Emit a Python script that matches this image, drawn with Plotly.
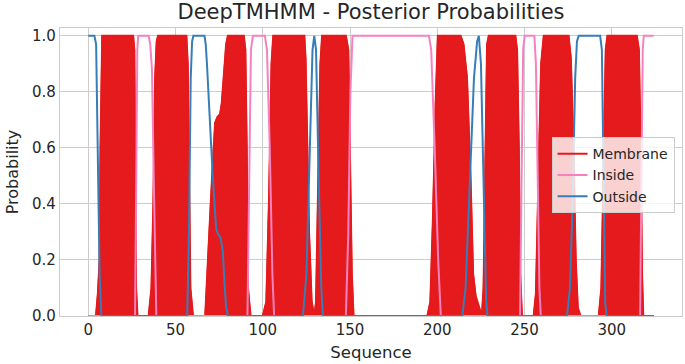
import plotly.graph_objects as go

# Residue positions / posterior probabilities (breakpoints)
membrane_x = [0, 4.4, 5.5, 6.5, 7, 7.5, 8, 25.7, 26.4, 26.9, 27.4, 28.2,
              34.6, 36.2, 37.3, 38.3, 39.2, 40, 56.2, 57, 57.7, 58.5, 60,
              67, 67.8, 68.6, 70, 71.4, 72.7, 74, 75.5, 76.5, 78.1, 79, 80,
              89.1, 90, 90.8, 91.5, 93, 100, 102, 103.5, 105, 106, 123.8,
              124.5, 125.5, 126.5, 128, 129.5, 130.5, 132, 133, 134, 147.6,
              149, 150, 151, 152, 194.3, 196, 197.5, 199, 200.3, 213.3, 215,
              217, 219, 220.5, 222, 224, 225.5, 226.5, 227.5, 228.5, 229.5,
              244.7, 245.7, 246.7, 247.5, 248.5, 255.2, 256.5, 258, 259.5,
              261, 275.2, 276.5, 278, 279.3, 280.5, 282, 292.5, 294, 295.5,
              296.5, 297.5, 314.3, 315.5, 316.5, 317.3, 318, 324]
membrane_y = [0, 0, 0.08, 0.2, 0.6, 0.95, 1, 1, 0.95, 0.5, 0.1, 0,
              0, 0.1, 0.4, 0.85, 0.98, 1, 1, 0.9, 0.5, 0.1, 0,
              0, 0.1, 0.22, 0.38, 0.55, 0.69, 0.71, 0.72, 0.76, 0.9, 0.97, 1,
              1, 0.95, 0.6, 0.1, 0, 0, 0.05, 0.4, 0.9, 1, 1,
              0.92, 0.6, 0.3, 0.05, 0, 0.05, 0.5, 0.9, 1, 1,
              0.95, 0.6, 0.15, 0, 0, 0.05, 0.35, 0.75, 1, 1, 0.97,
              0.85, 0.5, 0.15, 0.07, 0.03, 0, 0.1, 0.6, 0.97, 1,
              1, 0.95, 0.6, 0.15, 0, 0, 0.08, 0.5, 0.9,
              1, 1, 0.92, 0.6, 0.2, 0.03, 0, 0, 0.1, 0.6,
              0.95, 1, 1, 0.95, 0.6, 0.15, 0, 0]

inside_x = [0, 26.8, 27.5, 28.1, 28.6, 34.6, 35.5, 36.5, 37.5, 38.3, 39,
            91.2, 92.2, 93.2, 94.3, 101.2, 102.4, 104, 105.5, 106.5,
            147.6, 149, 150.2, 151.4, 195.2, 196.5, 198.5, 200.5, 202,
            247.4, 248.3, 249.2, 250, 255.6, 256.5, 257.5, 258.5, 259.3,
            316.2, 317, 317.7, 318.3, 324]
inside_y = [0, 0, 0.5, 0.95, 1, 1, 0.97, 0.88, 0.5, 0.15, 0,
            0, 0.5, 0.95, 1, 1, 0.95, 0.6, 0.15, 0,
            0, 0.3, 0.8, 1, 1, 0.95, 0.6, 0.2, 0,
            0, 0.5, 0.95, 1, 1, 0.9, 0.5, 0.1, 0,
            0, 0.5, 0.95, 1, 1]

outside_x = [0, 3.5, 4.5, 5.5, 6.5, 7.5, 56.7, 57.7, 58.7, 59.5, 60.2, 66.6,
             67.3, 68, 69.5, 71.4, 73.3, 74.5, 75.8, 77.1, 78.1, 79, 80,
             123, 125, 127, 128.5, 129.5, 130.5, 132, 133.5, 134.5,
             214.3, 216.2, 218.5, 221, 222.8, 223.8, 225, 226.5, 228, 228.8,
             274.3, 276, 277.5, 279, 280, 281, 293.3, 294.3, 295.3, 296.2,
             297, 324]
outside_y = [1, 1, 0.97, 0.6, 0.15, 0, 0, 0.3, 0.85, 0.98, 1, 1,
             0.97, 0.9, 0.70, 0.49, 0.31, 0.29, 0.28, 0.23, 0.11, 0.03, 0,
             0, 0.15, 0.6, 0.95, 1, 0.95, 0.5, 0.1, 0,
             0, 0.1, 0.45, 0.85, 0.98, 1, 0.9, 0.45, 0.05, 0,
             0, 0.1, 0.4, 0.85, 0.98, 1, 1, 0.95, 0.5, 0.05,
             0, 0]

x_ticks = [0, 50, 100, 150, 200, 250, 300]
y_ticks = [0.0, 0.2, 0.4, 0.6, 0.8, 1.0]

RED = "#e41a1c"
PINK = "#f781bf"
BLUE = "#377eb8"
TXT = "#262626"
GRID = "#cccccc"
FONT = "DejaVu Sans"

fig = go.Figure()
fig.add_trace(go.Scatter(x=membrane_x, y=membrane_y, mode="lines", fill="tozeroy",
                         fillcolor=RED, line=dict(color=RED, width=1.5),
                         showlegend=False, hoverinfo="skip"))
fig.add_trace(go.Scatter(x=membrane_x, y=membrane_y, mode="lines", name="Membrane",
                         line=dict(color=RED, width=2)))
fig.add_trace(go.Scatter(x=inside_x, y=inside_y, mode="lines", name="Inside",
                         line=dict(color=PINK, width=2)))
fig.add_trace(go.Scatter(x=outside_x, y=outside_y, mode="lines", name="Outside",
                         line=dict(color=BLUE, width=2)))

fig.update_layout(
    width=685, height=364,
    margin=dict(l=60, r=3, t=28, b=48, autoexpand=False),
    paper_bgcolor="white", plot_bgcolor="white",
    font=dict(family=FONT, color=TXT, size=15),
    title=dict(text="DeepTMHMM - Posterior Probabilities", xref="paper", x=0.5,
               xanchor="center", y=1 - 12 / 364, yanchor="middle",
               font=dict(size=21, color=TXT)),
    legend=dict(x=0.988, y=0.621, xanchor="right", yanchor="top",
                bgcolor="rgba(255,255,255,0.8)", bordercolor=GRID, borderwidth=1,
                font=dict(size=14, color=TXT), tracegroupgap=0, itemwidth=30),
    showlegend=True,
)
fig.update_xaxes(range=[-16.2, 340.2], tickvals=x_ticks, ticktext=[str(v) for v in x_ticks],
                 showgrid=True, gridcolor=GRID, gridwidth=1, zeroline=False,
                 showline=True, linecolor=GRID, linewidth=1.25, mirror=True,
                 ticks="", tickfont=dict(size=15, color=TXT), automargin=False,
                 title=dict(text="Sequence", font=dict(size=16.5, color=TXT), standoff=8))
fig.update_yaxes(range=[0, 1.028], tickvals=y_ticks, ticktext=[f"{v:.1f}" for v in y_ticks],
                 showgrid=True, gridcolor=GRID, gridwidth=1, zeroline=False,
                 showline=True, linecolor=GRID, linewidth=1.25, mirror=True,
                 ticks="", tickfont=dict(size=15, color=TXT), automargin=False,
                 title=dict(text="Probability", font=dict(size=16, color=TXT), standoff=9))

fig.write_html("out.html", config={"displayModeBar": False},
               post_script="document.body.style.margin='0px';")
